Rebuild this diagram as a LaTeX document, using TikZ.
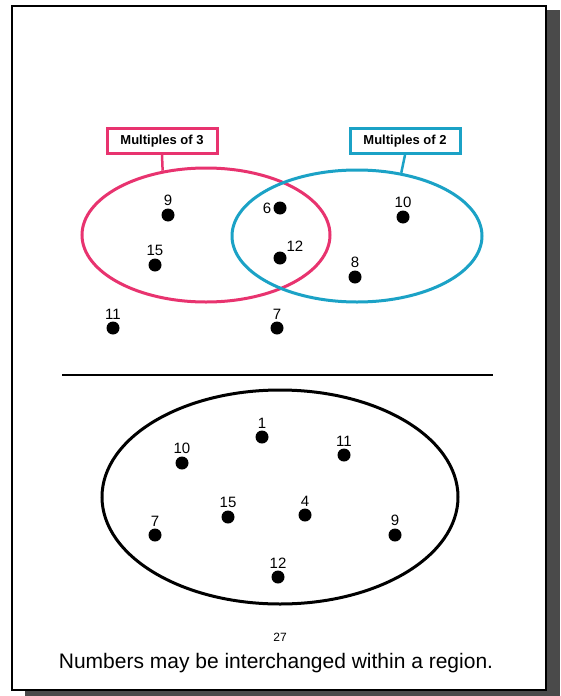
\documentclass[tikz,border=0pt]{standalone}
\usepackage{fontspec}
\setsansfont{Liberation Sans}
\usetikzlibrary{positioning,shapes.geometric}
\definecolor{SetPink}{HTML}{E8336F}
\definecolor{SetBlue}{HTML}{1BA2C6}
\definecolor{ShadowGray}{HTML}{4A4A4A}

\begin{document}
\begin{tikzpicture}[font=\sffamily, x=1pt, y=-1pt,
  elem/.style={circle, fill=black, inner sep=0pt, minimum size=13pt},
  num/.style={font=\sffamily\fontsize{15}{15}\selectfont, inner sep=1pt},
  setname/.style={draw=#1, line width=3pt, font=\sffamily\bfseries\fontsize{13}{13}\selectfont,
    minimum height=25pt, minimum width=110pt, inner xsep=3pt},
  setring/.style={draw=#1, line width=3pt, ellipse, inner sep=0pt}]
  % page and its shadow
  \fill[white] (0,0) rectangle (560,696);
  \useasboundingbox (0,0) rectangle (560,696);
  \fill[ShadowGray] (25,10) rectangle (560,696);
  \draw[fill=white, line width=2pt] (12,6) rectangle (546,690);

  % two overlapping sets
  \node[setring=SetPink, minimum width=248pt, minimum height=134pt] (lset) at (206,235) {};
  \node[setring=SetBlue, minimum width=250pt, minimum height=132pt] (rset) at (357,236) {};
  \node[setname=SetPink] (lbox) at (162,141) {Multiples of 3};
  \node[setname=SetBlue] (rbox) at (405,141) {Multiples of 2};
  \draw[SetPink, line width=2.5pt] (lbox.south) -- (lset.124);
  \draw[SetBlue, line width=2.5pt] (rbox.south) -- (rset.55);

  \foreach \n/\d/\x/\y/\t in {t9/above/168/215/9, t15/above/155/265/15,
    t6/left/280/208/6, t12/above right/280/258/12, t10/above/403/217/10,
    t8/above/355/277/8, t11/above/113/328/11, t7/above/277/328/7} {
    \node[elem] (\n) at (\x,\y) {};
    \node[num, \d=1pt of \n] {\t};
  }

  \draw[line width=1.5pt] (62,375) -- (493,375);

  % one single region
  \node[setring=black, minimum width=356pt, minimum height=214pt] (uset) at (280,497) {};
  \foreach \n/\x/\y/\t in {b1/262/437/1, b10/182/463/10, b11/344/455/11,
    b15/228/517/15, b4/305/515/4, b7/155/535/7, b9/395/535/9, b12/278/577/12} {
    \node[elem] (\n) at (\x,\y) {};
    \node[num, above=1pt of \n] {\t};
  }

  \node[font=\sffamily\fontsize{12}{12}\selectfont] (pagenum) at (280,637) {27};
  \node[font=\sffamily\fontsize{21}{21}\selectfont] (caption) at (276,663)
    {Numbers may be interchanged within a region.};
\end{tikzpicture}
\end{document}
